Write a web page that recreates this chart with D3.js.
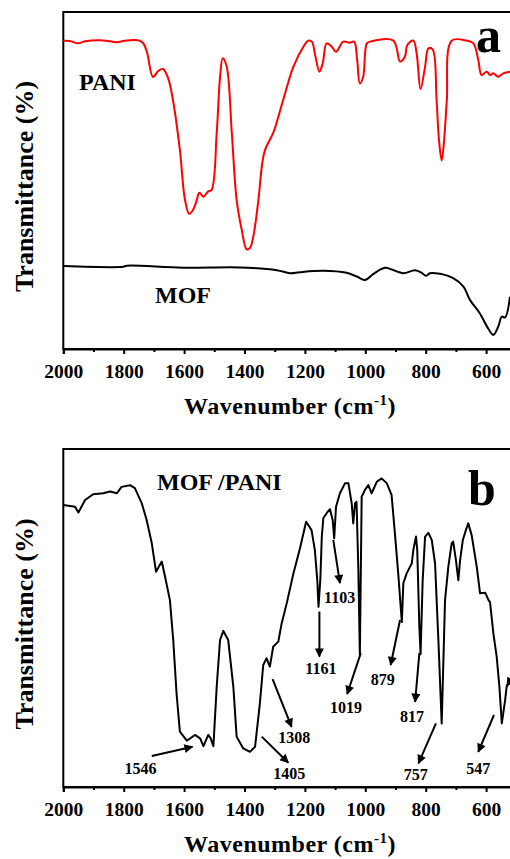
<!DOCTYPE html>
<html>
<head>
<meta charset="utf-8">
<script src="https://cdnjs.cloudflare.com/ajax/libs/d3/7.8.5/d3.min.js"></script>
<style>
body { margin: 0; background: #fff; }
svg { display: block; font-family: "Liberation Serif", "Times New Roman", serif; font-weight: bold; }
.axis text { font-family: "Liberation Serif", "Times New Roman", serif; font-size: 19.5px; font-weight: bold; fill: #000; }
.axis path, .axis line { stroke: #000; }
</style>
</head>
<body>
<svg id="chart" width="510" height="859"></svg>
<script>
// tick labels of the wavenumber axis
var majorTicks = [2000, 1800, 1600, 1400, 1200, 1000, 800, 600];
var minorTicks = [1900, 1700, 1500, 1300, 1100, 900, 700];

// PANI spectrum, [wavenumber, transmittance]
var paniData = [
    [2000, 91.5], [1978, 91.4], [1951, 90.7], [1928, 91.3], [1878, 91.6], [1845, 91.3],
    [1822, 91.0], [1796, 91.5], [1753, 91.6], [1736, 90.8], [1723, 88.1], [1703, 80.7],
    [1686, 82.5], [1670, 83.1], [1653, 80.4], [1637, 73.9], [1614, 59.1], [1597, 44.2],
    [1583, 40.1], [1571, 41.2], [1558, 44.2], [1550, 46.4], [1536, 45.2], [1521, 46.7],
    [1509, 47.2], [1492, 64.1], [1481, 80.7], [1472, 86.3], [1459, 83.8], [1442, 64.1],
    [1426, 44.2], [1409, 35.3], [1393, 29.6], [1382, 30.0], [1371, 33.3], [1354, 44.2],
    [1342, 54.6], [1332, 59.1], [1305, 64.1], [1272, 73.9], [1238, 83.8], [1205, 89.7],
    [1189, 91.5], [1177, 91.2], [1166, 87.2], [1152, 82.3], [1141, 84.8], [1128, 90.7],
    [1111, 89.7], [1097, 88.2], [1073, 91.2], [1051, 90.9], [1037, 91.2], [1027, 85.8],
    [1018, 78.8], [1007, 80.8], [995, 90.7], [984, 91.2], [907, 91.5], [885, 85.3],
    [869, 86.7], [861, 90.2], [841, 91.5], [830, 87.7], [817, 77.1], [802, 83.8],
    [791, 89.2], [777, 88.9], [764, 73.9], [756, 62.0], [747, 55.9], [739, 62.0],
    [730, 73.9], [714, 91.5], [664, 91.5], [642, 90.7], [626, 85.8], [615, 81.3],
    [598, 82.3], [587, 81.3], [576, 81.8], [560, 80.8], [543, 81.8], [521, 82.3]
];

// MOF spectrum
var mofData = [
    [2000, 24.6], [1802, 24.4], [1790, 24.7], [1603, 24.1], [1415, 24.2], [1293, 23.4],
    [1249, 22.5], [1217, 22.8], [1139, 23.2], [1062, 22.6], [1028, 21.5], [1001, 20.5],
    [973, 22.3], [935, 24.1], [913, 23.6], [874, 22.5], [835, 23.4], [813, 22.6],
    [799, 21.7], [786, 22.5], [753, 22.3], [709, 21.0], [675, 18.5], [653, 14.5],
    [621, 10.6], [593, 6.1], [576, 4.2], [560, 6.6], [548, 9.6], [537, 9.4], [521, 15.5]
];

// MOF/PANI spectrum
var mofPaniData = [
    [2000, 83.4], [1961, 82.9], [1950, 81.2], [1928, 84.9], [1901, 86.6], [1868, 86.9],
    [1845, 87.4], [1823, 86.9], [1807, 88.8], [1779, 89.3], [1763, 88.4], [1740, 83.9],
    [1724, 79.0], [1707, 72.1], [1693, 63.7], [1674, 66.7], [1663, 62.2], [1647, 55.3],
    [1636, 43.5], [1625, 27.7], [1614, 16.4], [1591, 13.7], [1564, 15.4], [1547, 14.4],
    [1536, 12.1], [1520, 15.4], [1512, 14.4], [1503, 12.1], [1492, 29.7], [1481, 43.5],
    [1470, 46.2], [1454, 43.5], [1437, 29.7], [1426, 14.9], [1404, 11.4], [1382, 10.4],
    [1365, 11.9], [1349, 24.8], [1338, 36.1], [1327, 38.1], [1316, 35.6], [1305, 41.5],
    [1288, 43.0], [1277, 48.4], [1260, 54.4], [1238, 63.2], [1216, 70.7], [1196, 78.5],
    [1178, 76.0], [1167, 70.1], [1159, 61.2], [1155, 53.3], [1149, 61.2], [1144, 74.1],
    [1139, 79.5], [1128, 81.0], [1117, 82.2], [1108, 79.0], [1103, 73.6], [1097, 82.9],
    [1084, 86.9], [1067, 89.9], [1056, 89.9], [1045, 83.9], [1040, 78.0], [1034, 83.9],
    [1029, 84.4], [1023, 64.2], [1018, 39.1], [1012, 85.9], [1001, 87.9], [990, 89.3],
    [979, 86.9], [962, 90.3], [946, 91.3], [929, 89.9], [913, 86.4], [902, 75.1],
    [891, 63.2], [879, 48.8], [874, 60.3], [863, 63.2], [846, 66.2], [841, 70.1],
    [832, 74.1], [828, 70.1], [821, 47.4], [817, 39.3], [810, 61.2], [802, 74.1],
    [791, 75.2], [780, 73.1], [769, 66.2], [758, 43.5], [747, 18.8], [736, 55.3],
    [725, 65.2], [714, 72.1], [709, 72.6], [700, 67.2], [692, 61.2], [686, 67.2],
    [677, 73.1], [667, 76.0], [659, 78.0], [648, 74.6], [631, 65.2], [620, 57.3],
    [603, 57.5], [592, 55.3], [587, 54.7], [576, 45.5], [565, 38.6], [556, 29.7],
    [548, 18.8], [537, 25.7], [532, 29.7], [521, 31.7]
];

// peak assignments of the MOF/PANI spectrum
var peakLabels = ['1546', '1405', '1308', '1161', '1103', '1019', '879', '817', '757', '547', ''];

// where each label and its arrow sit, in [wavenumber, transmittance]
var peakLayout = [
    {text: [1744, 3.8], from: [1707, 9.2], to: [1572, 11.9]},
    {text: [1252, 2.5], from: [1343, 14.9], to: [1255, 7.2]},
    {text: [1235, 12.9], from: [1307, 31.9], to: [1244, 17.8]},
    {text: [1147, 33.4], from: [1152, 51.9], to: [1152, 38.6]},
    {text: [1085, 54.3], from: [1106, 73.1], to: [1084, 60.3]},
    {text: [1064, 21.8], from: [1015, 39.6], to: [1060, 27.5]},
    {text: [942, 30.2], from: [885, 49.4], to: [916, 36.1]},
    {text: [845, 19.3], from: [821, 39.6], to: [835, 25.2]},
    {text: [833, 2.1], from: [766, 18.8], to: [824, 7.0]},
    {text: [626, 3.8], from: [574, 21.3], to: [626, 10.4]},
    {text: [480, 40], from: [488, 36.1], to: [531, 29.9]}
];

var svg = d3.select('#chart');

// arrow head for the peak labels
svg.append('defs').append('marker')
    .attr('id', 'arrow')
    .attr('viewBox', '0 0 10 10')
    .attr('refX', 9).attr('refY', 5)
    .attr('markerUnits', 'userSpaceOnUse')
    .attr('markerWidth', 10).attr('markerHeight', 9)
    .attr('orient', 'auto')
    .append('path').attr('d', 'M0,0 L10,5 L0,10 z').attr('fill', '#000');

var x = d3.scaleLinear().domain([2000, 400]).range([63.3, 546.5]);

function panel(top, bottom) {
    var p = {};
    p.y = d3.scaleLinear().domain([0, 100]).range([bottom, top]);
    p.g = svg.append('g');

    // frame of the plot (right side runs off the picture)
    p.g.append('rect')
        .attr('x', x(2000)).attr('y', top)
        .attr('width', x(400) - x(2000)).attr('height', bottom - top)
        .attr('fill', 'none').attr('stroke', '#000').attr('stroke-width', 2);

    // major ticks with labels
    p.g.append('g').attr('class', 'axis')
        .attr('transform', 'translate(0,' + bottom + ')')
        .call(d3.axisBottom(x).tickValues(majorTicks).tickSize(5).tickPadding(10.5)
            .tickFormat(d3.format('d')))
        .call(function(a) { a.select('.domain').attr('stroke-width', 2); })
        .selectAll('.tick line').attr('stroke-width', 2);

    // minor ticks
    p.g.append('g').attr('class', 'axis')
        .attr('transform', 'translate(0,' + bottom + ')')
        .call(d3.axisBottom(x).tickValues(minorTicks).tickSize(3).tickFormat(''))
        .call(function(a) { a.select('.domain').remove(); })
        .selectAll('.tick line').attr('stroke-width', 2);

    // y axis title
    p.g.append('text')
        .attr('transform', 'translate(33,' + ((top + bottom) / 2 + 6) + ') rotate(-90)')
        .attr('text-anchor', 'middle')
        .style('font-size', '26px')
        .text('Transmittance (%)');

    // x axis title
    var t = p.g.append('text')
        .attr('x', 290).attr('y', bottom + 65)
        .attr('text-anchor', 'middle')
        .style('font-size', '24px')
        .style('letter-spacing', '0.5px');
    t.append('tspan').text('Wavenumber (cm');
    t.append('tspan').attr('dy', -9).style('font-size', '15px').text('-1');
    t.append('tspan').attr('dy', 9).text(')');

    p.line = d3.line()
        .x(function(d) { return x(d[0]); })
        .y(function(d) { return p.y(d[1]); });
    return p;
}

function label(g, txt, px, py, size) {
    g.append('text').attr('x', px).attr('y', py)
        .style('font-size', size + 'px').text(txt);
}

// panel a
var pa = panel(12, 349);
pa.g.append('path').datum(paniData)
    .attr('d', pa.line.curve(d3.curveCatmullRom.alpha(0.5)))
    .attr('fill', 'none').attr('stroke', '#ff0000').attr('stroke-width', 2);
pa.g.append('path').datum(mofData)
    .attr('d', pa.line)
    .attr('fill', 'none').attr('stroke', '#000').attr('stroke-width', 2);
label(pa.g, 'PANI', 79, 90, 24);
label(pa.g, 'MOF', 155, 303, 24);
label(pa.g, 'a', 476, 52, 50);

// panel b
var pb = panel(449, 787);
pb.g.append('path').datum(mofPaniData)
    .attr('d', pb.line)
    .attr('fill', 'none').attr('stroke', '#000').attr('stroke-width', 2)
    .attr('stroke-linejoin', 'round');
label(pb.g, 'MOF /PANI', 157, 490, 24);
label(pb.g, 'b', 468, 505, 50);

// peak labels with arrows
var ann = pb.g.selectAll('.peak').data(peakLayout).enter().append('g').attr('class', 'peak');
ann.append('line')
    .attr('x1', function(d) { return x(d.from[0]); })
    .attr('y1', function(d) { return pb.y(d.from[1]); })
    .attr('x2', function(d) { return x(d.to[0]); })
    .attr('y2', function(d) { return pb.y(d.to[1]); })
    .attr('stroke', '#000').attr('stroke-width', 2)
    .attr('marker-end', 'url(#arrow)');
ann.append('text')
    .attr('x', function(d) { return x(d.text[0]); })
    .attr('y', function(d) { return pb.y(d.text[1]); })
    .attr('text-anchor', 'middle')
    .style('font-size', '16px')
    .text(function(d, i) { return peakLabels[i]; });
</script>
</body>
</html>
